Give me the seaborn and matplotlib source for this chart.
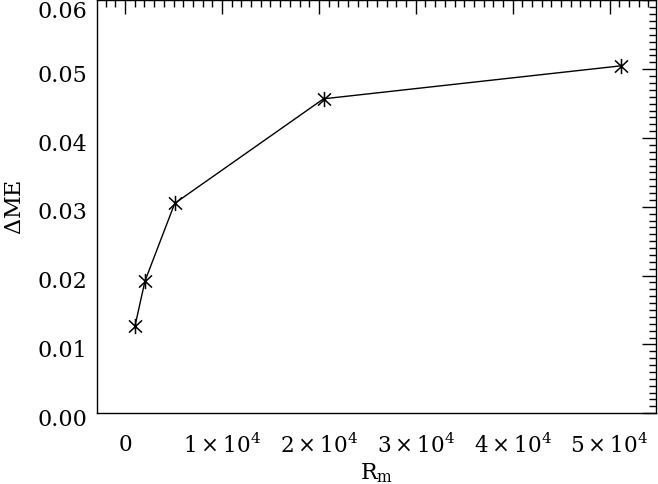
import numpy as np
import pandas as pd
import matplotlib
matplotlib.use('Agg')
import matplotlib.pyplot as plt
import matplotlib.transforms as mtransforms
from matplotlib.path import Path
from matplotlib.ticker import MultipleLocator, FixedLocator
import seaborn as sns

# data
rm_values = [1024, 2048, 5120, 20480, 51200]
delta_me = [0.0127, 0.0192, 0.0305, 0.0457, 0.0505]
xtick_vals = [0, 10000, 20000, 30000, 40000, 50000]
xtick_labels = ['0', r'$1\times10^4$', r'$2\times10^4$', r'$3\times10^4$',
                r'$4\times10^4$', r'$5\times10^4$']
ytick_vals = [0.00, 0.01, 0.02, 0.03, 0.04, 0.05, 0.06]

sns.set_theme(style='white')
plt.rcParams['font.family'] = ['DejaVu Serif']
plt.rcParams['mathtext.fontset'] = 'dejavuserif'

df = pd.DataFrame({'Rm': rm_values, 'dME': delta_me})

# IDL style asterisk: vertical bar plus an X
star = Path([(0, -1), (0, 1), (-0.85, -0.8), (0.85, 0.8), (-0.85, 0.8), (0.85, -0.8)],
            [Path.MOVETO, Path.LINETO, Path.MOVETO, Path.LINETO, Path.MOVETO, Path.LINETO])

fig = plt.figure(figsize=(6.58, 4.85), dpi=100)
ax = fig.add_axes([0.147, 0.146, 0.85, 0.851])

sns.lineplot(data=df, x='Rm', y='dME', ax=ax, color='black', linewidth=1,
             marker=star, markersize=11, mec='black', mew=1.1, mfc='none')

ax.set_xlim(-2930, 54800)
ax.set_ylim(0, 0.06)
ax.xaxis.set_major_locator(FixedLocator(xtick_vals))
ax.set_xticklabels(xtick_labels)
ax.xaxis.set_minor_locator(MultipleLocator(1000))
ax.set_yticks(ytick_vals)
ax.set_yticklabels([f'{v:.2f}' for v in ytick_vals])
ax.yaxis.set_minor_locator(MultipleLocator(0.001))

for s in ax.spines.values():
    s.set_color('black')
    s.set_linewidth(1)
ax.tick_params(which='both', direction='in', top=True, right=True, color='black',
               width=1, labelcolor='black')
ax.tick_params(axis='y', labelsize=16)
ax.tick_params(axis='x', labelsize=15.5)
ax.tick_params(which='major', length=10)
ax.tick_params(which='minor', length=5)
ax.tick_params(axis='x', which='major', pad=14)
ax.tick_params(axis='y', which='major', pad=7)

# y labels sit a little below their ticks, the top one pushed into view
for lab, v in zip(ax.get_yticklabels(), ytick_vals):
    dy = -8 if v == 0.06 else -3
    lab.set_transform(lab.get_transform() + mtransforms.ScaledTranslation(0, dy / 100, fig.dpi_scale_trans))

ax.set_xlabel(r'R$_{\rm m}$', fontsize=16, color='black')
ax.xaxis.set_label_coords(0.50, -0.115)
ax.set_ylabel(r'$\Delta$ME', fontsize=16, color='black')
ax.yaxis.set_label_coords(-0.127, 0.5)
ax.grid(False)

fig.savefig('out.png', dpi=100, facecolor='white')
